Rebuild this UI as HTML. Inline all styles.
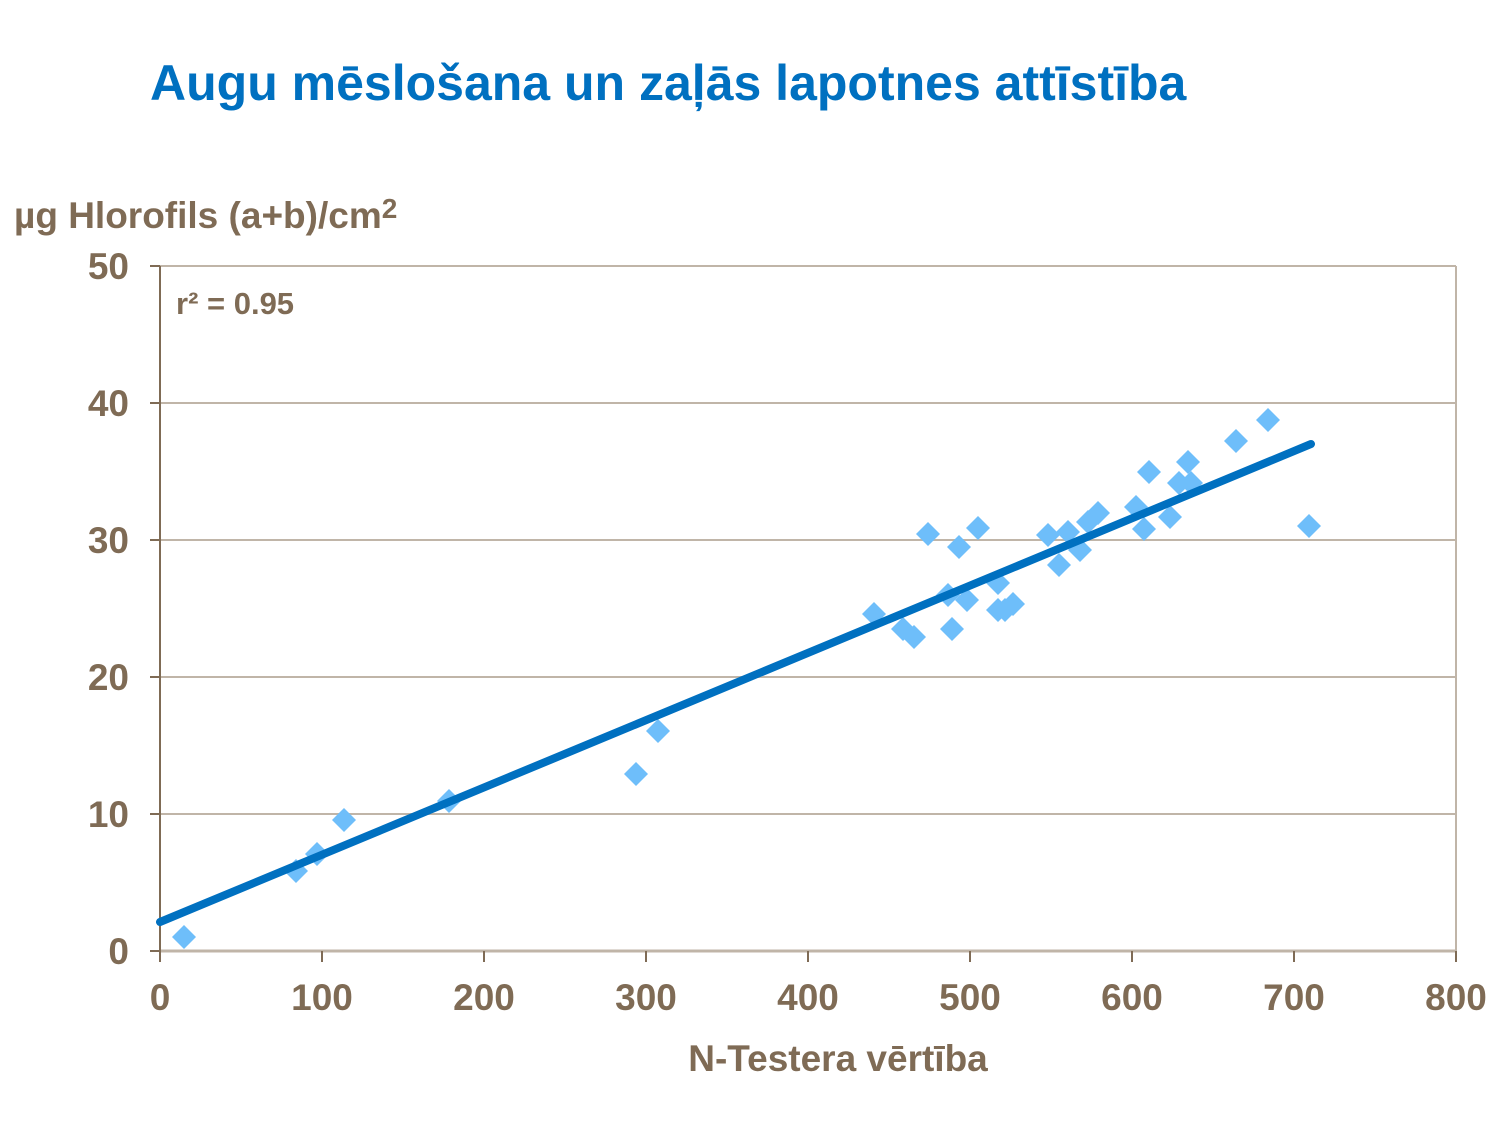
<!DOCTYPE html>
<html><head><meta charset="utf-8"><style>
html,body{margin:0;padding:0;background:#fff;}
svg{display:block;font-family:"Liberation Sans",Arial,sans-serif;font-weight:bold;}
</style></head><body>
<svg width="1500" height="1125" viewBox="0 0 1500 1125">
<text x="150" y="100" font-size="50" fill="#0070c0">Augu mēslošana un zaļās lapotnes attīstība</text>
<text x="14" y="228" font-size="37" fill="#7f6b55">µg Hlorofils (a+b)/cm<tspan font-size="28" dy="-10">2</tspan></text>
<g stroke="#c0b5a8" stroke-width="2">
<line x1="160" y1="403" x2="1456" y2="403"/>
<line x1="160" y1="540" x2="1456" y2="540"/>
<line x1="160" y1="677" x2="1456" y2="677"/>
<line x1="160" y1="814" x2="1456" y2="814"/>
<line x1="160" y1="266" x2="1456" y2="266"/>
<line x1="1456" y1="266" x2="1456" y2="951"/>
<line x1="160" y1="951" x2="1456" y2="951" stroke-width="3"/>
</g>
<g stroke="#7f6b55" stroke-width="2">
<line x1="160" y1="266" x2="160" y2="952"/>
<line x1="150" y1="266" x2="160" y2="266"/>
<line x1="150" y1="403" x2="160" y2="403"/>
<line x1="150" y1="540" x2="160" y2="540"/>
<line x1="150" y1="677" x2="160" y2="677"/>
<line x1="150" y1="814" x2="160" y2="814"/>
<line x1="150" y1="951" x2="160" y2="951"/>
<line x1="160" y1="951" x2="160" y2="962"/>
<line x1="322" y1="951" x2="322" y2="962"/>
<line x1="484" y1="951" x2="484" y2="962"/>
<line x1="646" y1="951" x2="646" y2="962"/>
<line x1="808" y1="951" x2="808" y2="962"/>
<line x1="970" y1="951" x2="970" y2="962"/>
<line x1="1132" y1="951" x2="1132" y2="962"/>
<line x1="1294" y1="951" x2="1294" y2="962"/>
<line x1="1456" y1="951" x2="1456" y2="962"/>
</g>
<g font-size="37" fill="#7f6b55" text-anchor="end">
<text x="129" y="279">50</text>
<text x="129" y="416">40</text>
<text x="129" y="553">30</text>
<text x="129" y="690">20</text>
<text x="129" y="827">10</text>
<text x="129" y="964">0</text>
</g>
<g font-size="37" fill="#7f6b55" text-anchor="middle">
<text x="160" y="1010">0</text>
<text x="322" y="1010">100</text>
<text x="484" y="1010">200</text>
<text x="646" y="1010">300</text>
<text x="808" y="1010">400</text>
<text x="970" y="1010">500</text>
<text x="1132" y="1010">600</text>
<text x="1294" y="1010">700</text>
<text x="1456" y="1010">800</text>
</g>
<text x="838" y="1071" font-size="37" fill="#7f6b55" text-anchor="middle">N-Testera vērtība</text>
<text x="176" y="314" font-size="31" fill="#7f6b55">r² = 0.95</text>
<defs><path id="d" d="M0,-12 L12,0 L0,12 L-12,0Z" fill="#6ebefa"/></defs>
<g>
<use href="#d" x="184" y="937"/><use href="#d" x="296" y="871"/><use href="#d" x="317" y="854"/>
<use href="#d" x="344" y="820"/><use href="#d" x="449" y="801"/><use href="#d" x="636" y="774"/>
<use href="#d" x="658" y="731"/><use href="#d" x="874" y="614"/><use href="#d" x="903" y="629"/>
<use href="#d" x="914" y="637"/><use href="#d" x="928" y="534"/><use href="#d" x="948" y="595"/>
<use href="#d" x="952" y="629"/><use href="#d" x="959" y="547"/><use href="#d" x="967" y="600"/>
<use href="#d" x="978" y="528"/><use href="#d" x="998" y="583"/><use href="#d" x="998" y="610"/>
<use href="#d" x="1005" y="610"/><use href="#d" x="1013" y="604"/><use href="#d" x="1048" y="535"/>
<use href="#d" x="1059" y="565"/><use href="#d" x="1068" y="532"/><use href="#d" x="1080" y="550"/>
<use href="#d" x="1088" y="522"/><use href="#d" x="1098" y="513"/><use href="#d" x="1136" y="507"/>
<use href="#d" x="1144" y="529"/><use href="#d" x="1149" y="472"/><use href="#d" x="1170" y="517"/>
<use href="#d" x="1179" y="483"/><use href="#d" x="1188" y="462"/><use href="#d" x="1191" y="483"/>
<use href="#d" x="1236" y="441"/><use href="#d" x="1268" y="420"/><use href="#d" x="1309" y="526"/>
</g>
<line x1="160" y1="922" x2="1311" y2="444" stroke="#0070c0" stroke-width="8" stroke-linecap="round"/>
</svg>
</body></html>
